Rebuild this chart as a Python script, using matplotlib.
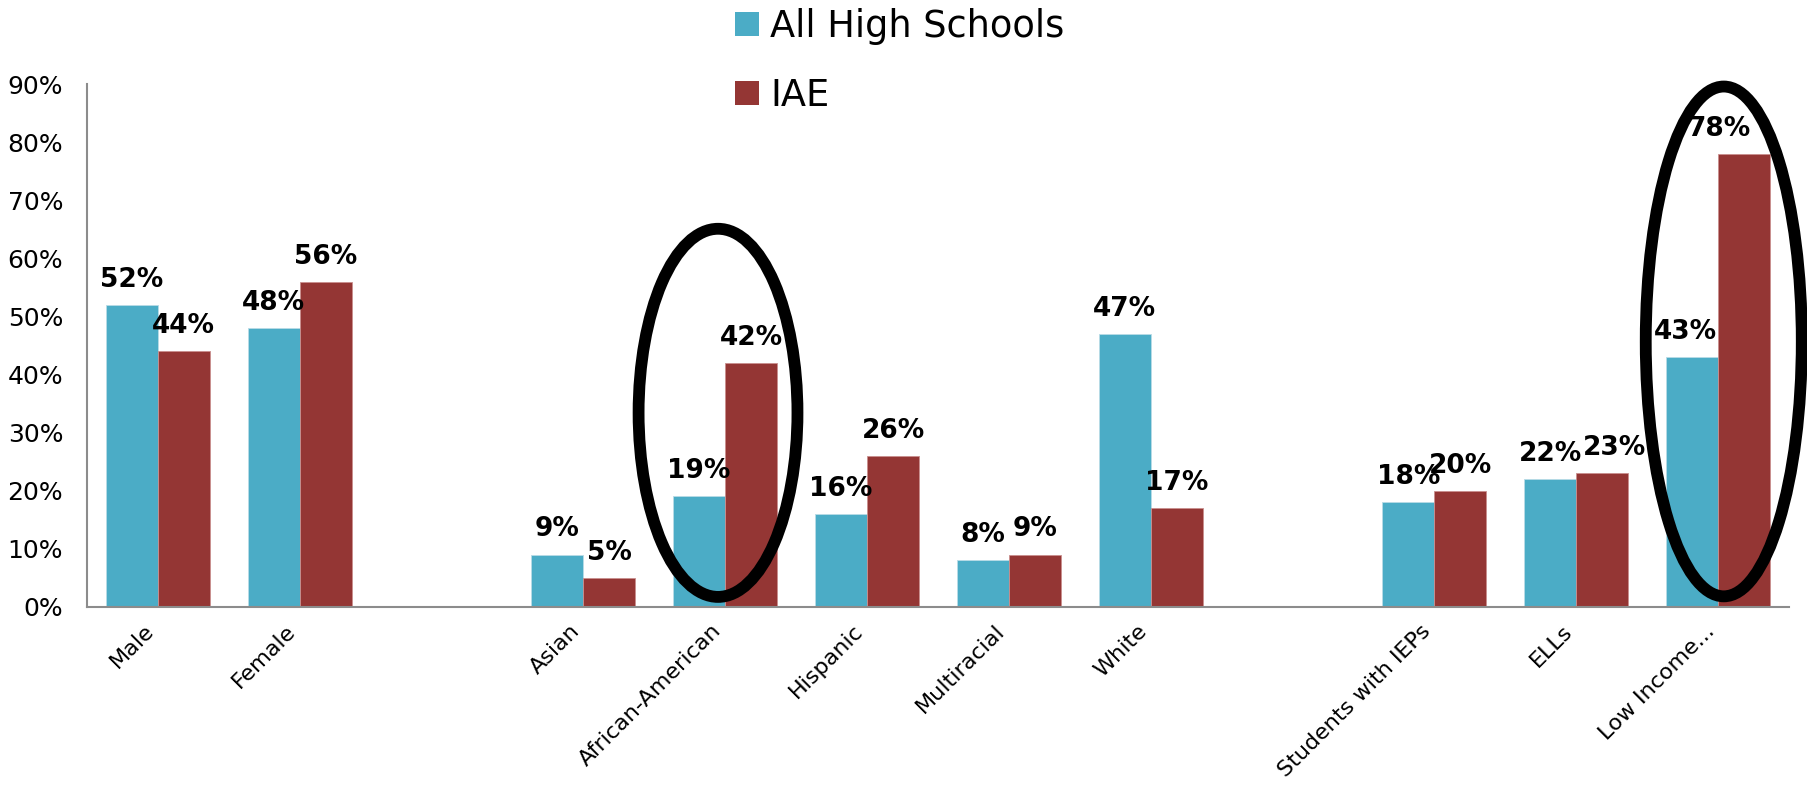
import matplotlib.pyplot as plt
import numpy as np
from matplotlib.patches import Ellipse, Patch


categories = ["Male", "Female", "", "Asian", "African-American", "Hispanic",
              "Multiracial", "White", "", "Students with IEPs", "ELLs", "Low Income..."]
all_hs = [52, 48, np.nan, 9, 19, 16, 8, 47, np.nan, 18, 22, 43]
iae = [44, 56, np.nan, 5, 42, 26, 9, 17, np.nan, 20, 23, 78]

blue = "#4BACC6"
red = "#943634"

# a few labels were dragged sideways in the slide
nudge = {"78%": -18, "43%": -5, "23%": 9}

fig = plt.figure(figsize=(18.08, 7.87), dpi=100)
ax = fig.add_axes([0.048, 0.229, 0.9415, 0.664])

x = np.arange(len(categories))
w = 0.367

ax.bar(x - w / 2, all_hs, w, color=blue, edgecolor="#b9dbe6", linewidth=0.6)
ax.bar(x + w / 2, iae, w, color=red, edgecolor="#c98f8e", linewidth=0.6)

for xs, vals in ((x - w / 2, all_hs), (x + w / 2, iae)):
    for xi, v in zip(xs, vals):
        if np.isnan(v):
            continue
        lab = f"{v:.0f}%"
        ax.annotate(lab, (xi, v), xytext=(nudge.get(lab, 0), 13), textcoords="offset points",
                    ha="center", va="baseline", fontsize=19, fontweight="bold")

ax.set_xlim(-0.5, len(categories) - 0.5)
ax.set_ylim(0, 90)
ax.set_yticks(np.arange(0, 91, 10))
ax.set_yticklabels([f"{t}%" for t in range(0, 91, 10)], fontsize=18)
ax.set_xticks(x)
ax.set_xticklabels(categories, rotation=45, ha="right", fontsize=16)
ax.tick_params(axis="both", length=0)
ax.tick_params(axis="y", pad=17)
ax.tick_params(axis="x", pad=10)

for s in ("top", "right"):
    ax.spines[s].set_visible(False)
for s in ("left", "bottom"):
    ax.spines[s].set_color("#8c8c8c")
    ax.spines[s].set_linewidth(1.5)

# highlight circles
for cx, cy, ew, eh in ((3.95, 33.4, 1.12, 63.4), (11.04, 45.7, 1.10, 87.8)):
    ax.add_patch(Ellipse((cx, cy), ew, eh, fill=False, edgecolor="black",
                         linewidth=8.5, clip_on=False, zorder=5))

handles = [Patch(facecolor=blue), Patch(facecolor=red)]
fig.legend(handles, ["All High Schools", "IAE"], loc="upper left",
           bbox_to_anchor=(0.4065, 0.99), frameon=False, fontsize=26.5,
           handlelength=0.65, handleheight=0.65, handletextpad=0.3,
           labelspacing=0.87, borderpad=0, borderaxespad=0)

plt.savefig("out.png", dpi=100)
plt.close()
